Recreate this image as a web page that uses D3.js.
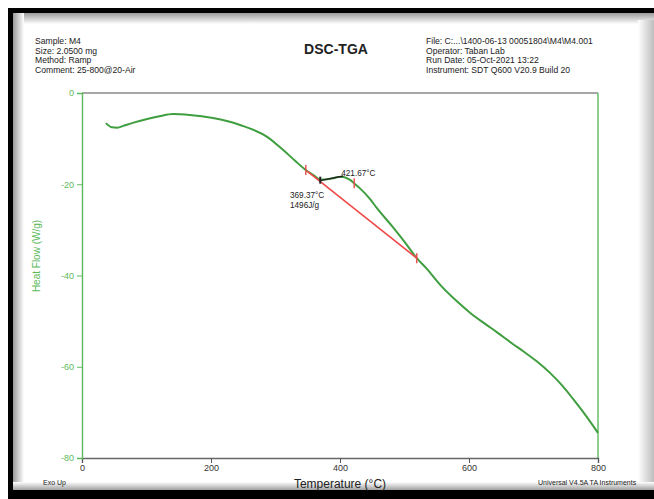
<!DOCTYPE html>
<html>
<head>
<meta charset="utf-8">
<script src="https://cdn.jsdelivr.net/npm/d3@7"></script>
<style>
  html, body { margin: 0; padding: 0; background: #fff; }
  svg { display: block; font-family: "Liberation Sans", Arial, sans-serif; }
</style>
</head>
<body>
<svg id="chart" width="654" height="499"></svg>
<script>
// DSC heat-flow trace for sample M4 (25-800 °C @ 20 °C/min, air)
const temperature = [37, 46, 55, 64, 80, 101, 120, 141, 167, 203, 245, 287, 312, 330, 349, 360, 369, 380, 389, 397, 405, 415, 422, 431, 447, 457, 482, 501, 519, 535, 555, 580, 602, 625, 643, 668, 684, 705, 726, 745, 761, 780, 800];
const heatFlow    = [-6.6, -7.5, -7.6, -7.2, -6.5, -5.7, -5.1, -4.6, -4.8, -5.5, -7.0, -9.6, -12.5, -14.8, -17.1, -18.1, -19.0, -18.9, -18.7, -18.4, -18.4, -19.0, -19.8, -20.9, -23.3, -25.2, -29.4, -32.8, -36.2, -38.6, -42.0, -45.5, -48.2, -50.6, -52.4, -55.0, -56.6, -58.8, -61.4, -64.2, -67.0, -70.5, -74.5];

// peak integration: baseline limits, peak and label values
const baselineT  = [349, 519];
const limitT     = [347, 422, 519];
const peakT      = 369.37;
const peakEndT   = 405;
const peakLabels = ["369.37°C", "1496J/g"];
const limitLabel = "421.67°C";

const xTicks = [0, 200, 400, 600, 800];
const yTicks = [0, -20, -40, -60, -80];

const headerLeft  = ["Sample: M4", "Size:  2.0500 mg", "Method: Ramp", "Comment: 25-800@20-Air"];
const headerRight = ["File: C:...\\1400-06-13 00051804\\M4\\M4.001", "Operator: Taban Lab", "Run Date: 05-Oct-2021 13:22", "Instrument: SDT Q600 V20.9 Build 20"];

const svg = d3.select("#chart");
const green = "#3f9e3f";
const axisGreen = "#5cba5c";
const red = "#f04848";

// page frame with shadowed edges
const defs = svg.append("defs");
function grad(id, x1, y1, x2, y2, stops) {
  const g = defs.append("linearGradient").attr("id", id)
    .attr("x1", x1).attr("y1", y1).attr("x2", x2).attr("y2", y2);
  stops.forEach(s => g.append("stop").attr("offset", s[0]).attr("stop-color", s[1]));
}
grad("shTop", 0, 0, 0, 1, [[0, "#9a9a9a"], [1, "#ffffff"]]);
grad("shLeft", 0, 0, 1, 0, [[0, "#9a9a9a"], [1, "#ffffff"]]);
grad("shRight", 0, 0, 1, 0, [[0, "#ffffff"], [1, "#bdbdbd"]]);
grad("shBottom", 0, 0, 0, 1, [[0, "#ffffff"], [1, "#a0a0a0"]]);

svg.append("rect").attr("x", 0).attr("y", 0).attr("width", 654).attr("height", 499).attr("fill", "#fff");
svg.append("rect").attr("x", 13).attr("y", 13).attr("width", 641).attr("height", 11).attr("fill", "url(#shTop)");
svg.append("rect").attr("x", 13).attr("y", 13).attr("width", 11).attr("height", 477).attr("fill", "url(#shLeft)");
svg.append("rect").attr("x", 638).attr("y", 20).attr("width", 16).attr("height", 470).attr("fill", "url(#shRight)");
svg.append("rect").attr("x", 13).attr("y", 482).attr("width", 641).attr("height", 8).attr("fill", "url(#shBottom)");
svg.append("rect").attr("x", 8).attr("y", 8).attr("width", 646).attr("height", 5).attr("fill", "#000");
svg.append("rect").attr("x", 8).attr("y", 8).attr("width", 5).attr("height", 491).attr("fill", "#000");
svg.append("rect").attr("x", 8).attr("y", 490).attr("width", 646).attr("height", 9).attr("fill", "#000");

// header block
const hdr = svg.append("g").attr("font-size", 8.6).attr("fill", "#222");
headerLeft.forEach((t, i) => hdr.append("text").attr("x", 35).attr("y", 44 + i * 9.6).text(t));
headerRight.forEach((t, i) => hdr.append("text").attr("x", 426).attr("y", 44 + i * 9.6).text(t));
svg.append("text").attr("x", 336).attr("y", 54).attr("text-anchor", "middle")
  .attr("font-size", 14).attr("font-weight", "bold").attr("fill", "#222").text("DSC-TGA");

// scales
const x = d3.scaleLinear().domain([0, 800]).range([82, 598]);
const y = d3.scaleLinear().domain([-80, 0]).range([458, 93]);

// plot frame: grey top edge, green right edge
svg.append("line").attr("x1", x(0)).attr("x2", x(800)).attr("y1", y(0)).attr("y2", y(0))
  .attr("stroke", "#8a8a8a").attr("stroke-width", 1.6);
svg.append("line").attr("x1", x(800)).attr("x2", x(800)).attr("y1", y(0)).attr("y2", y(-80))
  .attr("stroke", axisGreen).attr("stroke-width", 1.4);

// x axis
const xMinor = d3.range(0, 801, 50);
const gx = svg.append("g").attr("transform", `translate(0,${y(-80)})`);
gx.call(d3.axisBottom(x).tickValues(xMinor).tickSize(3).tickFormat(""));
gx.call(d3.axisBottom(x).tickValues(xTicks).tickSize(5).tickFormat(d3.format("d")));
gx.selectAll(".domain").attr("stroke", "#666").attr("stroke-width", 1.4);
gx.selectAll(".tick line").attr("stroke", "#555");
gx.selectAll("text").attr("font-size", 9).attr("fill", "#333").attr("font-family", "Liberation Sans, Arial, sans-serif").attr("dy", "0.55em");

// y axis
const yMinor = d3.range(-80, 1, 5);
const gy = svg.append("g").attr("transform", `translate(${x(0)},0)`);
gy.call(d3.axisLeft(y).tickValues(yMinor).tickSize(3).tickFormat(""));
gy.call(d3.axisLeft(y).tickValues(yTicks).tickSize(5).tickFormat(d3.format("d")));
gy.selectAll(".domain").attr("stroke", axisGreen).attr("stroke-width", 1.4);
gy.selectAll(".tick line").attr("stroke", axisGreen);
gy.selectAll("text").attr("font-size", 9).attr("fill", axisGreen).attr("font-family", "Liberation Sans, Arial, sans-serif")
  .text(d => d === 0 ? "0" : d3.format("d")(d).replace("−", "-"));

// axis titles and footer notes
svg.append("text").attr("transform", `translate(40,256) rotate(-90)`).attr("text-anchor", "middle")
  .attr("font-size", 10).attr("fill", axisGreen).text("Heat Flow (W/g)");
svg.append("text").attr("x", 340).attr("y", 488).attr("text-anchor", "middle")
  .attr("font-size", 12).attr("fill", "#222").text("Temperature (°C)");
svg.append("text").attr("x", 43).attr("y", 485).attr("font-size", 7).attr("fill", "#222").text("Exo Up");
svg.append("text").attr("x", 538).attr("y", 485).attr("font-size", 7).attr("fill", "#222").text("Universal V4.5A TA Instruments");

// heat-flow curve
const data = temperature.map((t, i) => ({ t, h: heatFlow[i] }));
const line = d3.line().x(d => x(d.t)).y(d => y(d.h)).curve(d3.curveMonotoneX);
svg.append("path").datum(data).attr("d", line).attr("fill", "none")
  .attr("stroke", green).attr("stroke-width", 2);

// interpolate the curve value at a temperature
const hfAt = d3.scaleLinear().domain(temperature).range(heatFlow);

// integration baseline
svg.append("line")
  .attr("x1", x(baselineT[0])).attr("y1", y(hfAt(baselineT[0])))
  .attr("x2", x(baselineT[1])).attr("y2", y(hfAt(baselineT[1])))
  .attr("stroke", red).attr("stroke-width", 1.6);

// limit markers
limitT.forEach(t => {
  svg.append("line").attr("x1", x(t)).attr("x2", x(t))
    .attr("y1", y(hfAt(t)) - 5).attr("y2", y(hfAt(t)) + 5)
    .attr("stroke", red).attr("stroke-width", 1.4);
});

// peak marker and leader
svg.append("line")
  .attr("x1", x(peakT)).attr("y1", y(hfAt(peakT)) + 1)
  .attr("x2", x(peakEndT)).attr("y2", y(hfAt(peakEndT)) - 1)
  .attr("stroke", "#222").attr("stroke-width", 1.4);
svg.append("line").attr("x1", x(peakT)).attr("x2", x(peakT))
  .attr("y1", y(hfAt(peakT)) - 3).attr("y2", y(hfAt(peakT)) + 4)
  .attr("stroke", "#222").attr("stroke-width", 2);

const ann = svg.append("g").attr("font-size", 8.2).attr("fill", "#222");
ann.append("text").attr("x", x(peakEndT) - 2).attr("y", y(hfAt(peakEndT)) - 1).text(limitLabel);
peakLabels.forEach((t, i) => ann.append("text").attr("x", 290).attr("y", 198 + i * 9.5).text(t));
</script>
</body>
</html>
